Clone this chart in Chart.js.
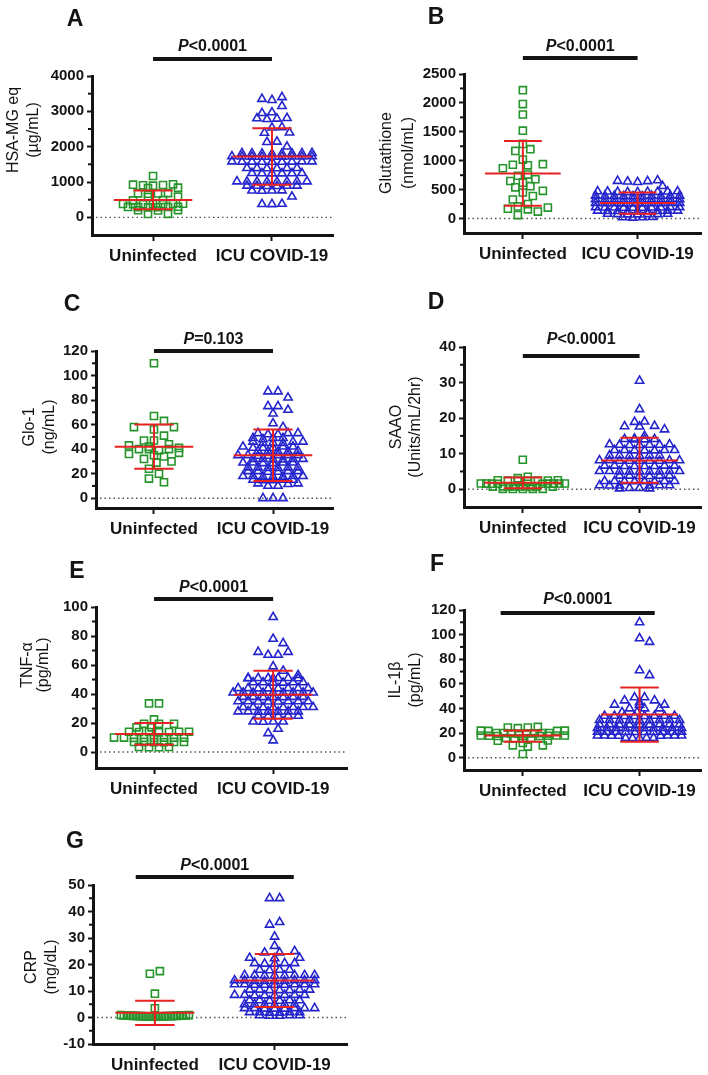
<!DOCTYPE html>
<html><head><meta charset="utf-8">
<script src="https://cdn.jsdelivr.net/npm/chart.js@4.4.1/dist/chart.umd.min.js"></script>
<style>
html,body{margin:0;padding:0;background:#fff;}
#wrap{position:relative;width:708px;height:1075px;overflow:hidden;}
canvas{position:absolute;}
</style></head><body><div id="wrap"></div>
<script>
const categories = ['Uninfected', 'ICU COVID-19'];

// A: HSA-MG eq
const hsaTicks = [0, 1000, 2000, 3000, 4000];
const hsaUninfected = [1170, 935, 925, 915, 905, 895, 840, 830, 685, 680, 675, 670, 585, 575, 490, 480, 385, 380, 378, 375, 372, 370, 368, 300, 295, 292, 288, 285, 282, 205, 200, 195, 100, 95];
const hsaICU = [3400, 3350, 3320, 3150, 2970, 2950, 2810, 2800, 2790, 2780, 2550, 2540, 2400, 2390, 2140, 2130, 2000,
  1820, 1815, 1810, 1805, 1800, 1810, 1805, 1815,
  1725, 1720, 1715, 1710, 1720, 1715, 1725, 1710, 1720,
  1580, 1575, 1570, 1575, 1580, 1570, 1575, 1580, 1570,
  1395, 1390, 1385, 1390, 1395, 1385,
  1250, 1245, 1240, 1245, 1250, 1240,
  1015, 1010, 1005, 1010, 1015, 1005, 1010, 1015,
  895, 890, 885, 890, 895, 885,
  760, 755, 750, 755,
  585, 380, 375, 370];
const hsaMean = [490, 1720];
const hsaLow = [230, 920];
const hsaHigh = [760, 2520];

// B: Glutathione
const gshTicks = [0, 500, 1000, 1500, 2000, 2500];
const gshUninfected = [2220, 1980, 1800, 1520, 1290, 1200, 1170, 1020, 940, 930, 920, 870, 760, 740, 680, 650, 620, 560, 540, 480, 450, 390, 330, 250, 210, 190, 170, 160, 120, 60];
const gshICU = [660, 650, 645, 640, 630, 560,
  470, 465, 460, 455, 460, 465, 470, 455, 460,
  395, 390, 385, 390, 395, 385, 390, 395, 385, 390,
  335, 330, 325, 330, 335, 325, 330, 335, 325, 330,
  270, 265, 260, 265, 270, 260, 265, 270, 260, 265,
  195, 190, 185, 190, 195, 185, 190, 195, 185, 190,
  135, 130, 125, 130, 135, 125, 130, 135, 125,
  80, 75, 70, 75, 80, 70, 75,
  25, 20, 15, 20];
const gshMean = [780, 270];
const gshLow = [220, 85];
const gshHigh = [1340, 450];

// C: Glo-1
const gloTicks = [0, 20, 40, 60, 80, 100, 120];
const gloUninfected = [110, 67, 63, 58, 58, 56, 51, 47, 47, 44, 43, 42, 41, 40, 40, 40, 39, 37, 36, 35, 34, 32, 30, 29, 24, 20, 16, 13];
const gloICU = [87, 87, 82, 75, 75, 72, 69, 61, 58,
  53, 53, 53, 52, 52,
  49, 49, 49, 48,
  46, 46, 45, 45, 45, 46,
  42, 42, 41, 41, 42, 41,
  38.5, 38, 38, 38.5, 38,
  35, 35, 34.5, 35, 34.5, 35, 35,
  32, 32, 31.5, 32, 31.5, 32,
  29, 29, 28.5, 29, 28.5, 29,
  25, 25, 24.5, 25, 24.5, 25,
  22, 22, 21.5, 22, 21.5, 22,
  18, 18, 17.5, 18, 17.5, 18, 17.5,
  15, 15, 14.5, 15, 14.5,
  12, 12, 11.5, 10, 10,
  0, 0, 0];
const gloMean = [42, 35];
const gloLow = [24, 14];
const gloHigh = [60, 56];

// D: SAAO
const saaoTicks = [0, 10, 20, 30, 40];
const saaoUninfected = [8.3, 3.5, 3.1, 2.5, 2.5, 2.45, 2.45, 2.4, 2.4, 2.4, 1.6, 1.6, 1.6, 1.58, 1.58, 1.56, 1.56, 1.55, 1.55, 0.8, 0.8, 0.8, 0.78, 0.78, 0.76, 0.76, 0.75, 0.75, 0.1, 0.1, 0.1, 0.08, 0.08];
const saaoICU = [30.5, 22.5, 19, 18.9, 17.8, 17.7, 17.6, 16.8, 15,
  14.2, 14.1, 14, 14, 14.1,
  12.6, 12.5, 12.4, 12.5, 12.6, 12.4, 12.5,
  11, 11, 10.9, 11, 10.9, 11, 10.9,
  9.5, 9.5, 9.4, 9.5, 9.4, 9.5,
  8.1, 8, 8, 8.1, 8, 8.1, 8, 8.1, 8,
  6.6, 6.5, 6.5, 6.6, 6.5, 6.6, 6.5, 6.6,
  5.1, 5, 5, 5.1, 5, 5.1, 5, 5.1, 5,
  3.8, 3.8, 3.7, 3.8, 3.7, 3.8,
  2.3, 2.2, 2.2, 2.3, 2.2, 2.3, 2.2, 2.3,
  1.1, 1, 1, 1.1, 1, 1.1,
  0.3, 0.2, 0.2, 0.3];
const saaoMean = [1.8, 8.1];
const saaoLow = [0.3, 1.8];
const saaoHigh = [3.3, 14.5];

// E: TNF-alpha
const tnfTicks = [0, 20, 40, 60, 80, 100];
const tnfUninfected = [33.5, 33.5, 22.5, 19.5, 19.5, 19.5, 17, 17, 14, 14, 13.8, 13.8, 14, 13.8, 13.6, 10, 10, 10, 9.8, 9.8, 10, 9.8, 10, 7, 7, 7, 6.8, 6.8, 7, 3.5, 3.5, 3.3, 3.3];
const tnfICU = [93, 78, 75, 69, 69, 67, 67, 59, 56, 53,
  51, 51, 50.8, 51, 50.8, 51, 50.8, 51,
  48, 48, 47.8, 48, 47.8, 48,
  44, 44, 43.8, 44, 43.8, 44, 43.8, 44,
  41, 41, 40.8, 41, 40.8, 41, 40.8, 41, 40.8,
  38, 38, 37.8, 38, 37.8, 38, 37.8,
  35, 35, 34.8, 35, 34.8, 35, 34.8, 35,
  31, 31, 30.8, 31, 30.8, 31, 30.8, 31,
  28, 28, 27.8, 28, 27.8, 28, 27.8,
  25, 25, 24.8, 25, 24.8,
  21, 21, 20.8, 21,
  16, 13, 8];
const tnfMean = [12.5, 39.5];
const tnfLow = [5, 23];
const tnfHigh = [20, 56];

// F: IL-1beta
const ilTicks = [0, 20, 40, 60, 80, 100, 120];
const ilUninfected = [25, 24.5, 24.5, 24, 22, 22, 21.8, 21.8, 20, 20, 20, 19.8, 19.8, 19.8, 20, 19.6, 18, 18, 17.8, 17.8, 18, 17.6, 17.6, 16, 16, 15.8, 15.8, 14, 13.8, 12, 10, 10, 9, 3];
const ilICU = [110, 97, 94, 71, 67, 49, 49, 46.5, 46.5, 45, 43, 43, 43, 40, 40, 40, 37, 37,
  34, 34, 33.8, 34, 33.8, 34, 33.8, 34,
  30.5, 30.5, 30.3, 30.5, 30.3, 30.5, 30.3, 30.5, 30.3,
  27, 27, 26.8, 27, 26.8, 27, 26.8, 27, 26.8,
  24, 24, 23.8, 24, 23.8, 24, 23.8, 24, 23.8, 24,
  21, 21, 20.8, 21, 20.8, 21, 20.8, 21, 20.8, 21,
  18, 18, 17.8, 18, 17.8, 18, 17.8, 18,
  16, 16, 15.8, 16, 15.8];
const ilMean = [18, 35];
const ilLow = [13, 13];
const ilHigh = [22, 57];

// G: CRP
const crpTicks = [-10, 0, 10, 20, 30, 40, 50];
const crpUninfected = [17.5, 16.5, 9, 3.5, 0.9, 0.9, 0.8, 0.8, 0.8, 0.7, 0.7, 0.7, 0.6, 0.6, 0.6, 0.6, 0.5, 0.5, 0.5, 0.5, 0.5, 0.4, 0.4, 0.4, 0.4, 0.3, 0.3, 0.3];
const crpICU = [45, 45, 36, 35, 30.5, 27, 25, 24.5, 24.5,
  22.5, 22.5, 22.3,
  20.5, 20.5, 20.3, 20.5, 20.3,
  18, 18, 17.8, 18,
  16, 16, 15.8, 16, 15.8, 16, 15.8, 16,
  14, 14, 13.8, 14, 13.8, 14, 13.8, 14, 13.8,
  12.5, 12.5, 12.3, 12.5, 12.3, 12.5, 12.3, 12.5, 12.3,
  10.5, 10.5, 10.3, 10.5, 10.3, 10.5, 10.3,
  8.5, 8.5, 8.3, 8.5, 8.3, 8.5, 8.3, 8.5,
  6.5, 6.5, 6.3, 6.5, 6.3, 6.5,
  5, 5, 4.8, 5, 4.8, 5,
  3.5, 3.5, 3.3, 3.5, 3.3, 3.5, 3.3, 3.5,
  2, 2, 1.8, 2, 1.8, 2,
  0.8, 0.8, 0.6, 0.8, 0.6];
const crpMean = [1.8, 14];
const crpLow = [-2.8, 4];
const crpHigh = [6.3, 24];

const FONT = '"Liberation Sans", Arial, Helvetica, sans-serif';
const GREEN = '#25942a', BLUE = '#2424cc', RED = '#e82222', INK = '#141414';

const panels = [
  {letter:'A', left:0, top:0, w:354, h:270, axisX:92, plotTop:76, plotBottom:235, plotRight:333, xMin:0.487, xMax:2.513, yMin:-500, yMax:4000, minor:500,
   ticks:hsaTicks, un:hsaUninfected, icu:hsaICU, mean:hsaMean, low:hsaLow, high:hsaHigh,
   title:['HSA-MG eq','(µg/mL)'], titleX:[14,34], titleY:130, letterX:75, letterY:20, p:'<0.0001', textY:47, barY:59, barFrom:1, barTo:2},
  {letter:'B', left:354, top:0, w:354, h:270, axisX:110, plotTop:74, plotBottom:233, plotRight:352, xMin:0.487, xMax:2.556, yMin:-250, yMax:2500, minor:250,
   ticks:gshTicks, un:gshUninfected, icu:gshICU, mean:gshMean, low:gshLow, high:gshHigh,
   title:['Glutathione','(nmol/mL)'], titleX:[33,55], titleY:153, letterX:82, letterY:18, p:'<0.0001', textY:47, barY:58, barFrom:1, barTo:2},
  {letter:'C', left:0, top:270, w:354, h:270, axisX:96, plotTop:81, plotBottom:238, plotRight:333, xMin:0.513, xMax:2.504, yMin:-8, yMax:120, minor:10,
   ticks:gloTicks, un:gloUninfected, icu:gloICU, mean:gloMean, low:gloLow, high:gloHigh,
   title:['Glo-1','(ng/mL)'], titleX:[30,50], titleY:157, letterX:72, letterY:35, p:'=0.103', textY:70, barY:81, barFrom:1, barTo:2},
  {letter:'D', left:354, top:270, w:354, h:270, axisX:110, plotTop:77, plotBottom:237, plotRight:352, xMin:0.496, xMax:2.53, yMin:-5, yMax:40, minor:5,
   ticks:saaoTicks, un:saaoUninfected, icu:saaoICU, mean:saaoMean, low:saaoLow, high:saaoHigh,
   title:['SAAO','(Units/mL/2hr)'], titleX:[43,62], titleY:157, letterX:82, letterY:33, p:'<0.0001', textY:70, barY:86, barFrom:1, barTo:2},
  {letter:'E', left:0, top:540, w:354, h:270, axisX:96, plotTop:67, plotBottom:228, plotRight:347, xMin:0.513, xMax:2.62, yMin:-11, yMax:100, minor:10,
   ticks:tnfTicks, un:tnfUninfected, icu:tnfICU, mean:tnfMean, low:tnfLow, high:tnfHigh,
   title:['TNF-α','(pg/mL)'], titleX:[28,44], titleY:125, letterX:77, letterY:32, p:'<0.0001', textY:48, barY:59, barFrom:1, barTo:2},
  {letter:'F', left:354, top:540, w:354, h:270, axisX:110, plotTop:70, plotBottom:230, plotRight:352, xMin:0.496, xMax:2.53, yMin:-10, yMax:120, minor:10,
   ticks:ilTicks, un:ilUninfected, icu:ilICU, mean:ilMean, low:ilLow, high:ilHigh,
   title:['IL-1β','(pg/mL)'], titleX:[42,62], titleY:140, letterX:83, letterY:25, p:'<0.0001', textY:60, barY:73, barFrom:0.81, barTo:2.13},
  {letter:'G', left:0, top:810, w:354, h:265, axisX:93, plotTop:75, plotBottom:234, plotRight:348, xMin:0.483, xMax:2.608, yMin:-10, yMax:50, minor:5,
   ticks:crpTicks, un:crpUninfected, icu:crpICU, mean:crpMean, low:crpLow, high:crpHigh,
   title:['CRP','(mg/dL)'], titleX:[32,52], titleY:157, letterX:75, letterY:32, p:'<0.0001', textY:56, barY:67, barFrom:0.84, barTo:2.16, halfUn:34},
];

// GraphPad-like scatter-dot layout: points close in height share a row;
// each row picks a spread / small sideways shift that dodges points above it.
function rowLayout(values, toPx, B, S, maxHalf, D) {
  const idx = values.map((v, i) => i).sort((a, b) => values[b] - values[a]);
  const groups = [];
  let cur = null;
  for (const i of idx) {
    const y = toPx(values[i]);
    if (!cur || Math.abs(y - cur.y0) > B) { cur = {y0: y, items: []}; groups.push(cur); }
    cur.items.push(i);
  }
  const off = new Array(values.length).fill(0);
  const placed = [];
  for (const g of groups) {
    const n = g.items.length;
    const asc = g.items.slice().sort((a, b) => values[a] - values[b]);
    const s0 = n > 1 ? Math.min(S, 2 * maxHalf / (n - 1)) : S;
    const spreads = n === 1 ? [1] : (n <= 3 ? [1, 1.5, 2, 2.5, 3] : [1]);
    const limit = n <= 3 ? Math.min(maxHalf, 28) : maxHalf;
    const shifts = [0];
    const maxM = n === 1 ? 5 : (n <= 3 ? 2 : 1);
    for (let m = 1; m <= maxM; m++) shifts.push(m * S / 2, -m * S / 2);
    let best = null, bestCost = Infinity;
    for (const f of spreads) {
      const s = s0 * f;
      const half = (n - 1) / 2 * s;
      if (half > limit + 0.1) continue;
      const pos = [];
      for (let k = 0; k < n; k++) pos.push((k - (n - 1) / 2) * s);
      pos.sort((a, b) => Math.abs(a) - Math.abs(b) || a - b);
      for (const shift of shifts) {
        if (Math.abs(shift) + half > limit + 0.1) continue;
        let cost = Math.abs(shift) * 0.06 + (f - 1) * s0 * 0.05;
        asc.forEach((i, k) => {
          const x = pos[k] + shift, y = toPx(values[i]);
          for (const q of placed) {
            const dy = q.y - y; if (Math.abs(dy) >= D) continue;
            const d = Math.hypot(q.x - x, dy);
            if (d < D) cost += (D - d);
          }
        });
        if (cost < bestCost - 1e-9) { bestCost = cost; best = pos.map(v => v + shift); }
      }
    }
    asc.forEach((i, k) => { off[i] = best[k]; placed.push({x: off[i], y: toPx(values[i])}); });
  }
  return off;
}

const wrap = document.getElementById('wrap');

panels.forEach(p => {
  const cv = document.createElement('canvas');
  cv.width = p.w; cv.height = p.h;
  cv.style.left = p.left + 'px'; cv.style.top = p.top + 'px';
  cv.style.width = p.w + 'px'; cv.style.height = p.h + 'px';
  wrap.appendChild(cv);

  const deco = {
    id: 'deco' + p.letter,
    beforeDatasetsDraw(chart) {
      const ctx = chart.ctx, ys = chart.scales.y, a = chart.chartArea;
      const y0 = ys.getPixelForValue(0);
      ctx.save();
      ctx.strokeStyle = '#555'; ctx.lineWidth = 1.4; ctx.setLineDash([1.5, 3]);
      ctx.beginPath(); ctx.moveTo(a.left + 4, y0); ctx.lineTo(a.right, y0); ctx.stroke();
      ctx.restore();
    },
    afterDatasetsDraw(chart) {
      const ctx = chart.ctx, xs = chart.scales.x, ys = chart.scales.y;
      ctx.save();
      ctx.strokeStyle = RED; ctx.lineWidth = 2;
      [1, 2].forEach((c, k) => {
        const ym = ys.getPixelForValue(p.mean[k]);
        const yl = ys.getPixelForValue(p.low[k]);
        const yh = ys.getPixelForValue(p.high[k]);
        const xc = xs.getPixelForValue(c);
        const mw = xs.getPixelForValue(c + 0.33) - xc;
        const cw = xs.getPixelForValue(c + 0.165) - xc;
        ctx.beginPath();
        ctx.moveTo(xc - mw, ym); ctx.lineTo(xc + mw, ym);
        ctx.moveTo(xc, yl); ctx.lineTo(xc, yh);
        ctx.moveTo(xc - cw, yl); ctx.lineTo(xc + cw, yl);
        ctx.moveTo(xc - cw, yh); ctx.lineTo(xc + cw, yh);
        ctx.stroke();
      });
      ctx.restore();
    },
    afterDraw(chart) {
      const ctx = chart.ctx, xs = chart.scales.x, ys = chart.scales.y, a = chart.chartArea;
      ctx.save();
      ctx.strokeStyle = INK; ctx.lineWidth = 2;
      const first = p.ticks[0], last = p.ticks[p.ticks.length - 1];
      for (let v = first; v < last; v += p.minor) {
        if (p.ticks.includes(v)) continue;
        const y = ys.getPixelForValue(v);
        ctx.beginPath(); ctx.moveTo(a.left - 4, y); ctx.lineTo(a.left, y); ctx.stroke();
      }
      ctx.fillStyle = INK; ctx.font = '16px ' + FONT;
      ctx.textAlign = 'center'; ctx.textBaseline = 'middle';
      p.title.forEach((t, i) => {
        ctx.save(); ctx.translate(p.titleX[i], p.titleY); ctx.rotate(-Math.PI / 2);
        ctx.fillText(t, 0, 0); ctx.restore();
      });
      ctx.font = 'bold 23px ' + FONT;
      ctx.fillText(p.letter, p.letterX, p.letterY);
      const x1 = xs.getPixelForValue(p.barFrom), x2 = xs.getPixelForValue(p.barTo);
      ctx.strokeStyle = INK; ctx.lineWidth = 4;
      ctx.beginPath(); ctx.moveTo(x1, p.barY); ctx.lineTo(x2, p.barY); ctx.stroke();
      ctx.font = 'italic bold 16px ' + FONT;
      const w1 = ctx.measureText('P').width;
      ctx.font = 'bold 16px ' + FONT;
      const w2 = ctx.measureText(p.p).width;
      const sx = (x1 + x2) / 2 - (w1 + w2) / 2;
      ctx.textAlign = 'left';
      ctx.font = 'italic bold 16px ' + FONT;
      ctx.fillText('P', sx, p.textY);
      ctx.font = 'bold 16px ' + FONT;
      ctx.fillText(p.p, sx + w1, p.textY);
      ctx.restore();
    }
  };

  const mk = (vals, style, color, r) => ({
    data: vals.map(v => ({x: 1, y: v})),
    pointStyle: style, pointRadius: r, pointHoverRadius: r,
    pointBorderColor: color, pointBackgroundColor: 'rgba(0,0,0,0)', pointBorderWidth: 1.6,
    showLine: false, clip: false
  });

  const chart = new Chart(cv, {
    type: 'scatter',
    data: { datasets: [ mk(p.un, 'rect', GREEN, 5), mk(p.icu, 'triangle', BLUE, 4.8) ] },
    options: {
      responsive: false, animation: false, events: [],
      layout: { padding: { left: 0, top: p.plotTop, right: p.w - p.plotRight, bottom: 0 } },
      plugins: { legend: { display: false }, tooltip: { enabled: false } },
      scales: {
        x: {
          type: 'linear', min: p.xMin, max: p.xMax,
          afterBuildTicks: s => { s.ticks = [{value: 1}, {value: 2}]; },
          afterFit: s => { s.height = p.h - p.plotBottom; },
          ticks: { callback: (v, i) => categories[i], font: {family: FONT, size: 17, weight: 'bold'}, color: INK, padding: 5, maxRotation: 0, autoSkip: false },
          grid: { drawOnChartArea: false, drawTicks: true, tickLength: 6, tickWidth: 2, color: INK },
          border: { display: true, width: 3, color: INK }
        },
        y: {
          type: 'linear', min: p.yMin, max: p.yMax,
          afterBuildTicks: s => { s.ticks = p.ticks.map(v => ({value: v})); },
          afterFit: s => { s.width = p.axisX; },
          ticks: { callback: v => String(v), font: {family: FONT, size: 15, weight: 'bold'}, color: INK, padding: 3, autoSkip: false },
          grid: { drawOnChartArea: false, drawTicks: true, tickLength: 5, tickWidth: 2, color: INK },
          border: { display: true, width: 3, color: INK }
        }
      }
    },
    plugins: [deco]
  });

  const xs = chart.scales.x, ys = chart.scales.y;
  const ppu = xs.getPixelForValue(2) - xs.getPixelForValue(1);
  const toPx = v => ys.getPixelForValue(v);
  const offU = rowLayout(p.un, toPx, 3, 10, p.halfUn || 42, 9);
  const offI = rowLayout(p.icu, toPx, 3, 10, 42, 9);
  chart.data.datasets[0].data = p.un.map((v, i) => ({x: 1 + offU[i] / ppu, y: v}));
  chart.data.datasets[1].data = p.icu.map((v, i) => ({x: 2 + offI[i] / ppu, y: v}));
  chart.update('none');
});
</script>
</body></html>
